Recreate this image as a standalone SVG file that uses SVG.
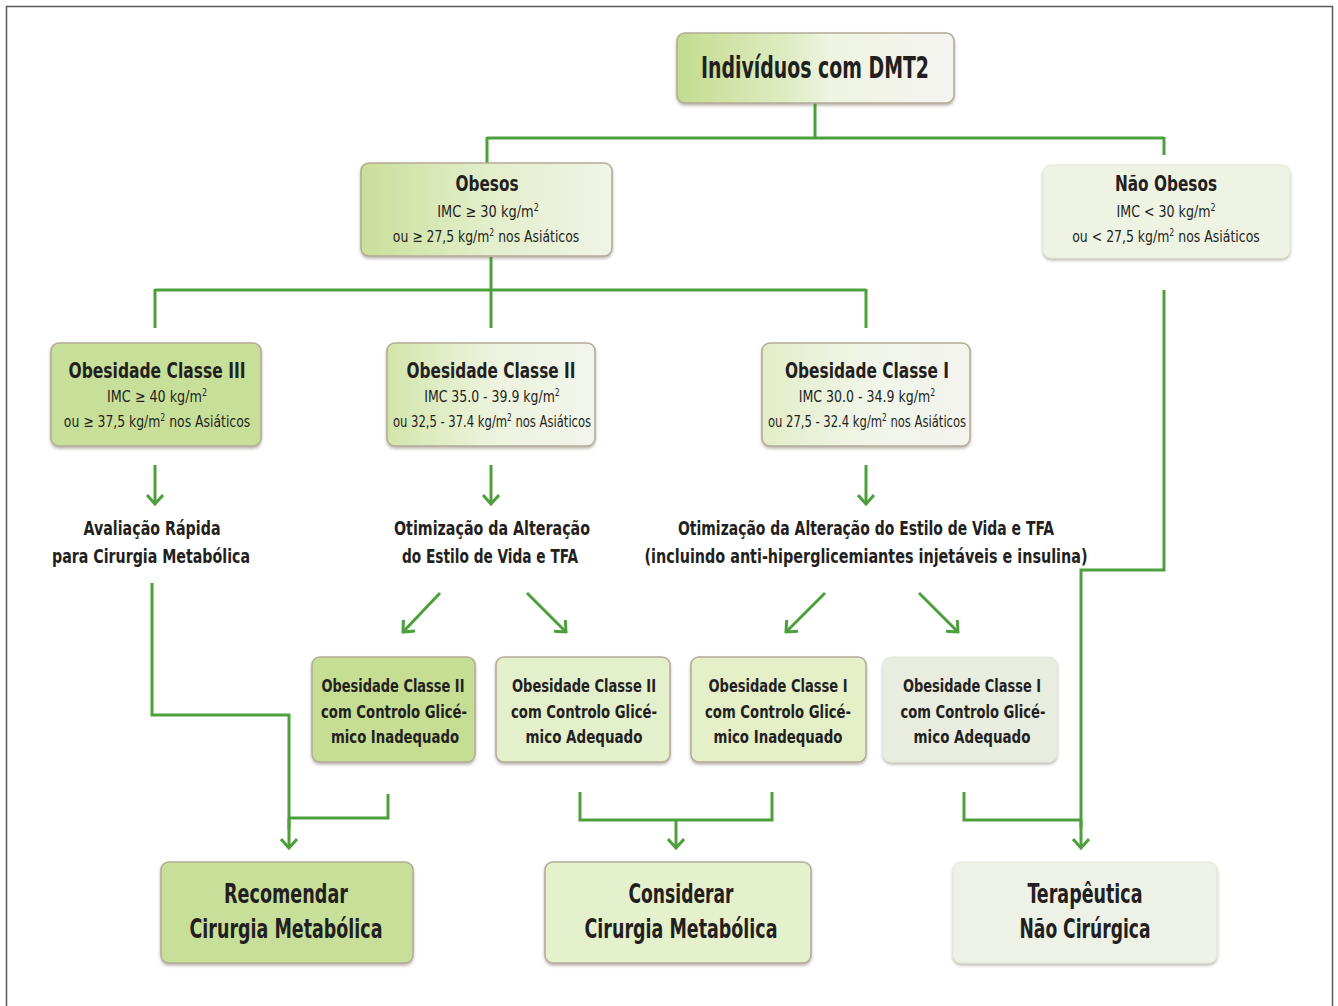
<svg xmlns="http://www.w3.org/2000/svg" width="1338" height="1006" viewBox="0 0 1338 1006">
<defs>
<style>
.t{font-family:"Liberation Sans Narrow","DejaVu Sans Condensed","Liberation Sans",sans-serif;fill:#231f20;text-anchor:middle;font-stretch:condensed}
.b{font-weight:bold}
.n{font-weight:normal;font-size:16px}
.box{stroke:#b3aa98;stroke-width:1.5;filter:url(#sh)}
.soft{stroke:#e3e7da;stroke-width:1;filter:url(#sh)}
.ln{fill:none;stroke:#4c9f3a;stroke-width:3}
.ar{fill:none;stroke:#4c9f3a;stroke-width:3;marker-end:url(#chev)}
</style>
<filter id="sh" x="-10%" y="-10%" width="120%" height="130%">
<feDropShadow dx="0" dy="2" stdDeviation="1.5" flood-color="#6b6250" flood-opacity="0.45"/>
</filter>
<marker id="chev" viewBox="-12 -9 14 18" refX="0" refY="0" markerWidth="14" markerHeight="18" markerUnits="userSpaceOnUse" orient="auto">
<path d="M-9,-8 L0,0 L-9,8" fill="none" stroke="#4c9f3a" stroke-width="3"/>
</marker>
<linearGradient id="gTop" x1="0" y1="0" x2="1" y2="0">
<stop offset="0" stop-color="#c3dc8e"/><stop offset="0.4" stop-color="#dfecc3"/><stop offset="0.55" stop-color="#eef4e0"/><stop offset="1" stop-color="#f5f4f1"/>
</linearGradient>
<linearGradient id="gObe" x1="0" y1="0" x2="1" y2="0">
<stop offset="0" stop-color="#c9df99"/><stop offset="0.5" stop-color="#e3eecb"/><stop offset="1" stop-color="#f0f4e6"/>
</linearGradient>
<linearGradient id="gII" x1="0" y1="0" x2="1" y2="0">
<stop offset="0" stop-color="#d3e5ab"/><stop offset="0.5" stop-color="#ecf3dd"/><stop offset="1" stop-color="#f2f5ec"/>
</linearGradient>
<linearGradient id="gI" x1="0" y1="0" x2="1" y2="0">
<stop offset="0" stop-color="#e2edc8"/><stop offset="0.5" stop-color="#f1f5e8"/><stop offset="1" stop-color="#f3f4ee"/>
</linearGradient>
</defs>
<rect x="6.5" y="6.5" width="1326" height="1010" fill="#ffffff" stroke="#5a5a5a" stroke-width="1.5"/>

<g id="connectors">
<path class="ln" d="M815,103 V138 M487,138 H1164 M487,137 V163 M1164,137 V155"/>
<path class="ln" d="M491,257 V328 M155,290 H866 M155,289 V328 M866,289 V328"/>
<path class="ln" d="M1164,290 V570 H1081 V828"/>
<path class="ar" d="M1081,820 V848"/>
<path class="ar" d="M155,465 V504"/>
<path class="ar" d="M491,465 V504"/>
<path class="ar" d="M866,465 V504"/>
<path class="ar" d="M440,593 L403,632"/>
<path class="ar" d="M527,593 L566,632"/>
<path class="ar" d="M825,593 L786,632"/>
<path class="ar" d="M919,593 L958,632"/>
<path class="ln" d="M152,583 V715 H289 V830"/>
<path class="ar" d="M289,818 V848"/>
<path class="ln" d="M388,794 V818 H289"/>
<path class="ln" d="M580,792 V820 H772 V792"/>
<path class="ar" d="M676,820 V848"/>
<path class="ln" d="M964,792 V820 H1081"/>
</g>

<g id="n-dmt2">
<rect class="box" x="677" y="33" width="277" height="70" rx="8" fill="url(#gTop)"/>
<text class="t b" x="815" y="78" font-size="30" textLength="228" lengthAdjust="spacingAndGlyphs">Indivíduos com DMT2</text>
</g>

<g id="n-obesos">
<rect class="box" x="361" y="163" width="251" height="93" rx="8" fill="url(#gObe)"/>
<text class="t b" x="487" y="191" font-size="22" textLength="63" lengthAdjust="spacingAndGlyphs">Obesos</text>
<text class="t n" transform="translate(488,217) scale(0.9,1)">IMC ≥ 30 kg/m<tspan font-size="10" dy="-6">2</tspan></text>
<text class="t n" transform="translate(486,242) scale(0.862,1)">ou ≥ 27,5 kg/m<tspan font-size="10" dy="-6">2</tspan><tspan dy="6"> nos Asiáticos</tspan></text>
</g>

<g id="n-naoobesos">
<rect class="soft" x="1043" y="165" width="247" height="93" rx="8" fill="#eef3e3"/>
<text class="t b" x="1166" y="191" font-size="22" textLength="102" lengthAdjust="spacingAndGlyphs">Não Obesos</text>
<text class="t n" transform="translate(1166,217) scale(0.877,1)">IMC &lt; 30 kg/m<tspan font-size="10" dy="-6">2</tspan></text>
<text class="t n" transform="translate(1166,242) scale(0.867,1)">ou &lt; 27,5 kg/m<tspan font-size="10" dy="-6">2</tspan><tspan dy="6"> nos Asiáticos</tspan></text>
</g>

<g id="n-classe3">
<rect class="box" x="51" y="343" width="210" height="103" rx="8" fill="#c8df99"/>
<text class="t b" x="157" y="378" font-size="22" textLength="177" lengthAdjust="spacingAndGlyphs">Obesidade Classe III</text>
<text class="t n" transform="translate(157,402) scale(0.886,1)">IMC ≥ 40 kg/m<tspan font-size="10" dy="-6">2</tspan></text>
<text class="t n" transform="translate(157,427) scale(0.862,1)">ou ≥ 37,5 kg/m<tspan font-size="10" dy="-6">2</tspan><tspan dy="6"> nos Asiáticos</tspan></text>
</g>

<g id="n-classe2">
<rect class="box" x="387" y="343" width="208" height="103" rx="8" fill="url(#gII)"/>
<text class="t b" x="491" y="378" font-size="22" textLength="169" lengthAdjust="spacingAndGlyphs">Obesidade Classe II</text>
<text class="t n" transform="translate(492,402) scale(0.867,1)">IMC 35.0 - 39.9 kg/m<tspan font-size="10" dy="-6">2</tspan></text>
<text class="t n" transform="translate(492,427) scale(0.806,1)">ou 32,5 - 37.4 kg/m<tspan font-size="10" dy="-6">2</tspan><tspan dy="6"> nos Asiáticos</tspan></text>
</g>

<g id="n-classe1">
<rect class="box" x="762" y="343" width="208" height="103" rx="8" fill="url(#gI)"/>
<text class="t b" x="867" y="378" font-size="22" textLength="164" lengthAdjust="spacingAndGlyphs">Obesidade Classe I</text>
<text class="t n" transform="translate(867,402) scale(0.873,1)">IMC 30.0 - 34.9 kg/m<tspan font-size="10" dy="-6">2</tspan></text>
<text class="t n" transform="translate(867,427) scale(0.806,1)">ou 27,5 - 32.4 kg/m<tspan font-size="10" dy="-6">2</tspan><tspan dy="6"> nos Asiáticos</tspan></text>
</g>

<g id="n-avaliacao">
<text class="t b" x="152" y="535" font-size="19" textLength="137" lengthAdjust="spacingAndGlyphs">Avaliação Rápida</text>
<text class="t b" x="151" y="563" font-size="19" textLength="198" lengthAdjust="spacingAndGlyphs">para Cirurgia Metabólica</text>
</g>

<g id="n-otim2">
<text class="t b" x="492" y="535" font-size="19" textLength="196" lengthAdjust="spacingAndGlyphs">Otimização da Alteração</text>
<text class="t b" x="490" y="563" font-size="19" textLength="176" lengthAdjust="spacingAndGlyphs">do Estilo de Vida e TFA</text>
</g>

<g id="n-otim1">
<text class="t b" x="866" y="535" font-size="19" textLength="376" lengthAdjust="spacingAndGlyphs">Otimização da Alteração do Estilo de Vida e TFA</text>
<text class="t b" x="866" y="563" font-size="19" textLength="443" lengthAdjust="spacingAndGlyphs">(incluindo anti-hiperglicemiantes injetáveis e insulina)</text>
</g>

<g id="n-c2-inad">
<rect class="box" x="312" y="657" width="163" height="105" rx="8" fill="#c6dd94"/>
<text class="t b" x="393" y="692" font-size="18" textLength="143" lengthAdjust="spacingAndGlyphs">Obesidade Classe II</text>
<text class="t b" x="394" y="718" font-size="18" textLength="146" lengthAdjust="spacingAndGlyphs">com Controlo Glicé-</text>
<text class="t b" x="395" y="743" font-size="18" textLength="128" lengthAdjust="spacingAndGlyphs">mico Inadequado</text>
</g>

<g id="n-c2-adeq">
<rect class="box" x="496" y="657" width="174" height="105" rx="8" fill="#e4efcb"/>
<text class="t b" x="584" y="692" font-size="18" textLength="144" lengthAdjust="spacingAndGlyphs">Obesidade Classe II</text>
<text class="t b" x="584" y="718" font-size="18" textLength="146" lengthAdjust="spacingAndGlyphs">com Controlo Glicé-</text>
<text class="t b" x="584" y="743" font-size="18" textLength="117" lengthAdjust="spacingAndGlyphs">mico Adequado</text>
</g>

<g id="n-c1-inad">
<rect class="box" x="691" y="657" width="175" height="105" rx="8" fill="#e5efc8"/>
<text class="t b" x="778" y="692" font-size="18" textLength="139" lengthAdjust="spacingAndGlyphs">Obesidade Classe I</text>
<text class="t b" x="778" y="718" font-size="18" textLength="146" lengthAdjust="spacingAndGlyphs">com Controlo Glicé-</text>
<text class="t b" x="778" y="743" font-size="18" textLength="129" lengthAdjust="spacingAndGlyphs">mico Inadequado</text>
</g>

<g id="n-c1-adeq">
<rect class="soft" x="883" y="657" width="174" height="105" rx="8" fill="#e9ede0"/>
<text class="t b" x="972" y="692" font-size="18" textLength="138" lengthAdjust="spacingAndGlyphs">Obesidade Classe I</text>
<text class="t b" x="973" y="718" font-size="18" textLength="145" lengthAdjust="spacingAndGlyphs">com Controlo Glicé-</text>
<text class="t b" x="972" y="743" font-size="18" textLength="117" lengthAdjust="spacingAndGlyphs">mico Adequado</text>
</g>

<g id="n-recomendar">
<rect class="box" x="161" y="862" width="252" height="101" rx="8" fill="#c8df99"/>
<text class="t b" x="286" y="903" font-size="26" textLength="124" lengthAdjust="spacingAndGlyphs">Recomendar</text>
<text class="t b" x="286" y="938" font-size="26" textLength="193" lengthAdjust="spacingAndGlyphs">Cirurgia Metabólica</text>
</g>

<g id="n-considerar">
<rect class="box" x="545" y="862" width="266" height="101" rx="8" fill="#e5f0cc"/>
<text class="t b" x="681" y="903" font-size="26" textLength="105" lengthAdjust="spacingAndGlyphs">Considerar</text>
<text class="t b" x="681" y="938" font-size="26" textLength="193" lengthAdjust="spacingAndGlyphs">Cirurgia Metabólica</text>
</g>

<g id="n-terapeutica">
<rect class="soft" x="953" y="862" width="264" height="101" rx="8" fill="#eef2e6"/>
<text class="t b" x="1085" y="903" font-size="26" textLength="115" lengthAdjust="spacingAndGlyphs">Terapêutica</text>
<text class="t b" x="1085" y="938" font-size="26" textLength="131" lengthAdjust="spacingAndGlyphs">Não Cirúrgica</text>
</g>
</svg>
